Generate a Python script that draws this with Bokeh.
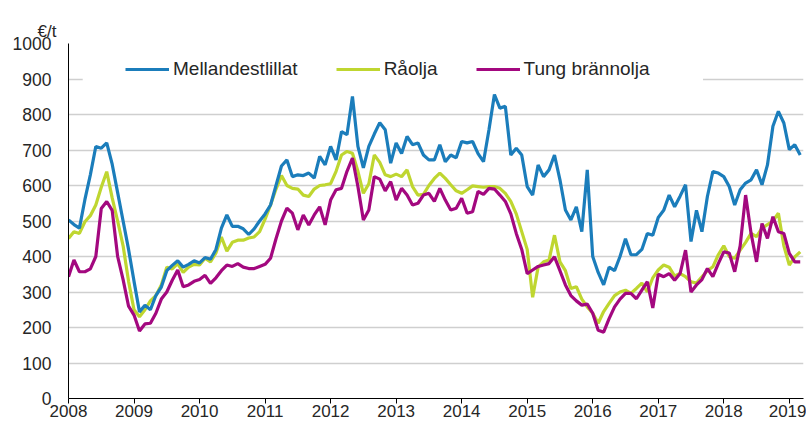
from bokeh.plotting import figure
from bokeh.models import Range1d, FixedTicker, Legend, LegendItem, BoxAnnotation, Title
from bokeh.embed import file_html
from bokeh.resources import INLINE

years = ["2008", "2009", "2010", "2011", "2012", "2013", "2014", "2015", "2016", "2017", "2018", "2019"]

mellandestillat = [
    503, 490, 480, 560, 630, 710, 705, 720, 660, 580, 500, 420,
    330, 244, 263, 250, 290, 314, 360, 375, 388, 370, 378, 388,
    382, 397, 392, 420, 480, 517, 485, 485, 478, 462, 478, 500,
    520, 545, 600, 655, 672, 625, 630, 628, 635, 621, 682, 658,
    710, 672, 752, 743, 851, 710, 650, 710, 745, 777, 757, 663,
    720, 690, 738, 715, 720, 686, 672, 672, 715, 667, 686, 678,
    724, 720, 724, 690, 667, 757, 856, 818, 823, 686, 705, 686,
    597, 573, 658, 625, 644, 686, 616, 531, 503, 540, 470, 644,
    400, 355, 320, 370, 360, 400, 450, 405, 405, 420, 465, 460,
    510, 530, 573, 540, 570, 602, 442, 530, 470, 569, 639, 635,
    625, 597, 545, 588, 607, 616, 644, 602, 658, 767, 809, 776,
    701, 715, 686,
]

raolja = [
    451, 470, 465, 498, 515, 545, 595, 639, 565, 500, 430, 330,
    250, 230, 250, 275, 290, 320, 370, 365, 380, 355, 370, 378,
    376, 395, 385, 410, 455, 415, 440, 446, 446, 452, 455, 470,
    505, 545, 590, 628, 600, 592, 590, 573, 569, 590, 600, 602,
    605, 640, 686, 696, 691, 640, 578, 605, 686, 665, 630, 625,
    632, 625, 644, 597, 573, 575, 600, 620, 635, 620, 602, 585,
    578, 588, 599, 597, 595, 597, 597, 592, 578, 555, 520, 470,
    420, 285, 370, 385, 390, 460, 385, 360, 310, 315, 280, 258,
    240, 212, 245, 268, 290, 300, 305, 296, 310, 325, 300, 340,
    362, 376, 370, 345, 352, 343, 329, 325, 343, 360, 371, 405,
    430, 400, 395, 418, 440, 465, 456, 480, 490, 500, 522, 430,
    376, 399, 413,
]

tung_brannolja = [
    343, 390, 357, 357, 365, 400, 535, 555, 530, 400, 335, 260,
    235, 190, 210, 212, 240, 280, 300, 333, 362, 315, 320, 330,
    335, 347, 324, 340, 360, 376, 372, 380, 370, 366, 366, 372,
    378, 395, 450, 500, 536, 522, 475, 517, 489, 517, 540, 489,
    559, 588, 592, 640, 677, 597, 503, 531, 625, 618, 585, 611,
    559, 592, 573, 545, 550, 573, 578, 555, 592, 559, 531, 536,
    564, 522, 526, 583, 575, 592, 590, 573, 555, 520, 465, 420,
    352, 362, 372, 376, 380, 399, 360, 320, 290, 275, 263, 266,
    240, 192, 187, 225, 258, 280, 296, 296, 281, 305, 329, 255,
    350, 343, 352, 333, 352, 418, 300, 320, 335, 366, 343, 380,
    413, 410, 357, 430, 573, 465, 385, 493, 451, 512, 470, 465,
    409, 385, 385,
]

months = list(range(len(mellandestillat)))

FONT = "Liberation Sans"
TXT = "#262626"

p = figure(width=806, height=424, output_backend="svg", toolbar_location=None,
           x_range=Range1d(0, 134.6), y_range=Range1d(0, 1000),
           min_border_left=68, min_border_right=3, min_border_top=43, min_border_bottom=26)
p.outline_line_color = None
p.background_fill_color = "white"

p.title = Title(text="€/t", align="left", offset=-31, standoff=5,
                text_font=FONT, text_font_size="17px", text_font_style="normal",
                text_color=TXT)

# axes
p.yaxis.ticker = FixedTicker(ticks=list(range(0, 1001, 100)))
p.yaxis.major_tick_line_color = None
p.yaxis.minor_tick_line_color = None
p.yaxis.axis_line_color = "black"
p.yaxis.major_label_standoff = 11
p.yaxis.major_label_text_font = FONT
p.yaxis.major_label_text_font_size = "17.5px"
p.yaxis.major_label_text_color = TXT

p.xaxis.ticker = FixedTicker(ticks=[12 * i for i in range(len(years))])
p.xaxis.major_label_overrides = {12 * i: y for i, y in enumerate(years)}
p.xaxis.major_tick_out = 5
p.xaxis.major_tick_in = 0
p.xaxis.minor_tick_line_color = None
p.xaxis.axis_line_color = "black"
p.xaxis.major_tick_line_color = "black"
p.xaxis.major_label_standoff = 1
p.xaxis.major_label_text_font = FONT
p.xaxis.major_label_text_font_size = "17px"
p.xaxis.major_label_text_color = TXT

p.xgrid.grid_line_color = None
p.ygrid.ticker = FixedTicker(ticks=list(range(0, 1001, 100)))
p.ygrid.grid_line_color = "#cfcfcf"
p.ygrid.grid_line_width = 1.5

r1 = p.line(months, mellandestillat, line_color="#1b7dbb", line_width=3.2)
r2 = p.line(months, raolja, line_color="#bfd630", line_width=3.2)
r3 = p.line(months, tung_brannolja, line_color="#a3087f", line_width=3.2)
p.renderers = [r2, r3, r1]

box = BoxAnnotation(left=2.6, right=116.2, bottom=875, top=925,
                    fill_color="white", fill_alpha=1.0, line_color=None)
p.add_layout(box)

legend = Legend(items=[LegendItem(label="Mellandestlillat", renderers=[r1]),
                       LegendItem(label="Råolja", renderers=[r2]),
                       LegendItem(label="Tung brännolja", renderers=[r3])],
                orientation="horizontal", location=(57, 318),
                padding=0, margin=0, spacing=38, glyph_width=44, glyph_height=20,
                label_height=20, label_standoff=4,
                label_text_font=FONT, label_text_font_size="19px", label_text_color=TXT,
                background_fill_alpha=0, border_line_color=None)
p.add_layout(legend)

open("out.html", "w").write(file_html(p, INLINE))
